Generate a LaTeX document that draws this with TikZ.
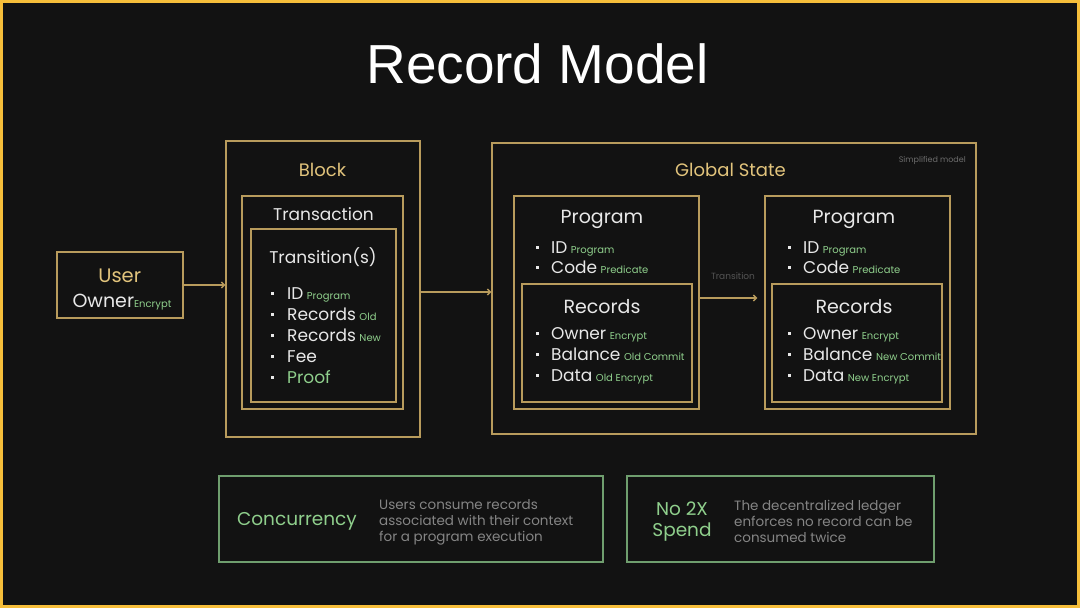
\documentclass[tikz,border=0pt]{standalone}
\usepackage{fontspec}
\setmainfont{Poppins}
\newfontfamily\titlefont{Liberation Sans}
\usetikzlibrary{arrows.meta}
\definecolor{bg}{HTML}{121212}
\definecolor{frame}{HTML}{F6BE3A}
\definecolor{gold}{HTML}{B89B5C}
\definecolor{goldtxt}{HTML}{E2C47C}
\definecolor{grn}{HTML}{8FCF8C}
\definecolor{grnline}{HTML}{6F9E6E}
\definecolor{wht}{HTML}{E8E8E8}
\definecolor{gry}{HTML}{858585}
\newcommand\sq[1]{\makebox[#1][l]{\rule[4.5pt]{3pt}{3pt}}}
\newcommand\tg[1]{{\fontsize{10}{11}\selectfont\color{grn}#1}}
\newcommand\gap{\hspace{3.5pt}}
\begin{document}
\begin{tikzpicture}[x=1pt,y=-1pt,
  box/.style={draw=gold,line width=1.4pt,inner sep=0pt},
  keybox/.style={draw=grnline,line width=1.4pt,inner sep=0pt},
  head/.style={anchor=base,text=wht,inner sep=0pt,font=\fontsize{18}{21}\selectfont},
  item/.style={anchor=base west,text=wht,inner sep=0pt,font=\fontsize{17}{21}\selectfont},
  desc/.style={anchor=west,align=left,text=gry,inner sep=0pt,font=\fontsize{13.5}{16}\selectfont},
  arr/.style={draw=gold,line width=1.4pt,-{Straight Barb[length=3pt,width=6pt]}}]
  \useasboundingbox (0,0) rectangle (1080,608);
  \fill[bg] (0,0) rectangle (1080,608);
  \draw[frame,line width=3pt] (1.5,1.5) rectangle (1078.5,606.5);
  \node[anchor=base,text=white,inner sep=0pt,font=\titlefont\fontsize{55}{60}\selectfont] (title) at (537.5,83) {Record Model};
  \foreach \n/\cx/\cy/\w/\h in {user/120/285/126/66, block/323/289/194/296, trans/322.5/302.5/161/213,
      transit/323.5/315.5/145/173, global/734/288.5/484/291, progA/606.5/302.5/185/213,
      recA/607/343/170/118, progB/857.5/302.5/185/213, recB/857/343/170/118}
    \node[box,minimum width=\w,minimum height=\h] (\n) at (\cx,\cy) {};
  \node[keybox,minimum width=384,minimum height=86] (conc) at (411,519) {};
  \node[keybox,minimum width=307,minimum height=86] (nospend) at (780.5,519) {};

  \node[head,text=goldtxt,font=\fontsize{19.5}{21}\selectfont] (usert) at (119.7,282) {User};
  \node[head,font=\fontsize{19}{21}\selectfont] (owner) at (122,307) {Owner\tg{Encrypt}};
  \node[head,text=goldtxt] (blockt) at (322.5,176) {Block};
  \node[head,font=\fontsize{17}{21}\selectfont] (transt) at (323.5,220) {Transaction};
  \node[head,font=\fontsize{17}{21}\selectfont] (transitt) at (323,263) {Transition(s)};
  \foreach \t [count=\i] in {ID\gap\tg{Program}, Records\gap\tg{Old}, Records\gap\tg{New}, Fee, {\color{grn}Proof}}
    \node[item] (tr\i) at (270.5,278+21*\i) {\sq{16.5pt}\t};

  \node[head,text=goldtxt] (globalt) at (730.5,176) {Global State};
  \node[anchor=base east,text=gry!120,inner sep=0pt,font=\fontsize{8}{9}\selectfont] (simp) at (966,162) {Simplified model};
  \foreach \p/\x/\c/\d in {A/602/Old Commit/Old Encrypt, B/854/New Commit/New Encrypt} {
    \node[head,font=\fontsize{19}{21}\selectfont] (prog\p t) at (\x,223) {Program};
    \node[head,font=\fontsize{19}{21}\selectfont] (rec\p t) at (\x,313) {Records};
    \node[item] (id\p) at (\x-66.5,253) {\sq{15.5pt}ID\gap\tg{Program}};
    \node[item] (code\p) at (\x-66.5,273) {\sq{15.5pt}Code\gap\tg{Predicate}};
    \node[item] (own\p) at (\x-66.5,339) {\sq{15.5pt}Owner\gap\tg{Encrypt}};
    \node[item] (bal\p) at (\x-66.5,360) {\sq{15.5pt}Balance\gap\tg{\c}};
    \node[item] (dat\p) at (\x-66.5,381) {\sq{15.5pt}Data\gap\tg{\d}};
  }

  \draw[arr] (user.east) -- (block.west |- user.east);
  \draw[arr] (block.east |- 0,292) -- (global.west |- 0,292);
  \draw[arr,shorten >=7pt] (progA.east |- 0,298) -- (progB.west |- 0,298);
  \node[anchor=base,text=gry!140,inner sep=0pt,font=\fontsize{9}{10}\selectfont] (transl) at (733,279) {Transition};

  \node[anchor=base,text=grn,inner sep=0pt,font=\fontsize{18.5}{20}\selectfont] (conct) at (297,525.5) {Concurrency};
  \node[desc] (concd) at (379,522) {Users consume records\\associated with their context\\for a program execution};
  \node[align=center,text=grn,inner sep=0pt,font=\fontsize{18.5}{21}\selectfont] (nospendt) at (682,521.5) {No 2X\\Spend};
  \node[desc] (nospendd) at (734,521) {The decentralized ledger\\enforces no record can be\\consumed twice};
\end{tikzpicture}
\end{document}
